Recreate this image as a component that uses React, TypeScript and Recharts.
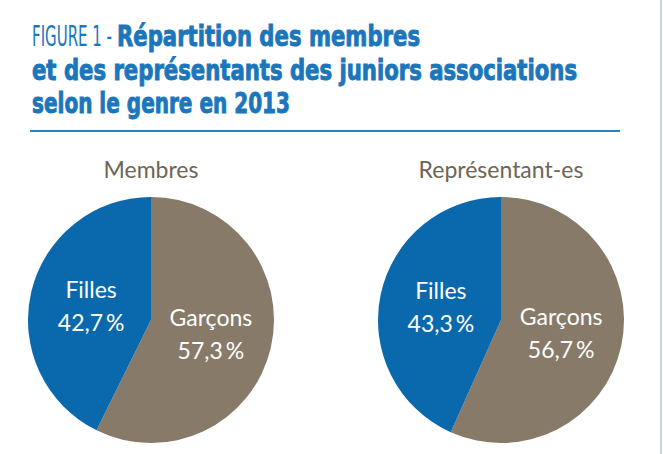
import { Pie, PieChart, Cell } from "recharts";

// données
const genres = ["Garçons", "Filles"];
const membres = [57.3, 42.7];
const representants = [56.7, 43.3];
const panneaux = ["Membres", "Représentant-es"];
const couleurs = ["#877a68", "#0a69ad"];

const titreLigne1a = "FIGURE 1 -";
const titreLigne1b = "Répartition des membres";
const titreLigne2 = "et des représentants des juniors associations";
const titreLigne3 = "selon le genre en 2013";

const BLEU = "#1b76bc";
const RAD = Math.PI / 180;
const POLICE_TITRE = "'DejaVu Sans Condensed', 'DejaVu Sans', sans-serif";

const fmt = (v: number) => v.toFixed(1).replace(".", ",") + "\u2009%";

// texte écrasé horizontalement pour imiter la police condensée
const TitreLigne = (p: {
  x: number;
  y: number;
  w: number;
  sx: number;
  bold?: boolean;
  children: string;
}) => (
  <text
    transform={`translate(${p.x},${p.y}) scale(${p.sx},1)`}
    fill={BLEU}
    stroke={p.bold ? BLEU : "none"}
    strokeWidth={p.bold ? 0.9 : 0}
    fontFamily={POLICE_TITRE}
    fontWeight={p.bold ? "bold" : "normal"}
    fontSize={28}
    textLength={p.w / p.sx}
    lengthAdjust="spacingAndGlyphs"
  >
    {p.children}
  </text>
);

const renderLabel = (props: any) => {
  const { cx, cy, midAngle, outerRadius, name, value } = props;
  const r = outerRadius * 0.5;
  const x = cx + r * Math.cos(-midAngle * RAD);
  const y = cy + r * Math.sin(-midAngle * RAD);
  return (
    <text
      x={x}
      y={y}
      fill="#ffffff"
      textAnchor="middle"
      fontFamily="Lato, sans-serif"
      fontSize={23}
    >
      <tspan x={x} y={y - 8}>
        {name}
      </tspan>
      <tspan x={x} y={y + 25}>
        {fmt(value)}
      </tspan>
    </text>
  );
};

const App = () => {
  const dataMembres = genres.map((g, i) => ({ name: g, value: membres[i] }));
  const dataRepr = genres.map((g, i) => ({ name: g, value: representants[i] }));
  const centres = [151, 501];
  const marge = 5;

  return (
    <div
      style={{
        position: "absolute",
        left: 0,
        top: 0,
        width: 663,
        height: 454,
        background: "#ffffff",
      }}
    >
      <svg
        width={663}
        height={454}
        style={{ position: "absolute", left: 0, top: 0 }}
      >
        <TitreLigne x={32} y={46} w={80} sx={0.62}>
          {titreLigne1a}
        </TitreLigne>
        <TitreLigne x={117} y={46} w={303} sx={0.85} bold>
          {titreLigne1b}
        </TitreLigne>
        <TitreLigne x={32} y={80} w={545} sx={0.85} bold>
          {titreLigne2}
        </TitreLigne>
        <TitreLigne x={32} y={113} w={258} sx={0.85} bold>
          {titreLigne3}
        </TitreLigne>
        <line x1={30} x2={620} y1={131} y2={131} stroke="#2a80c2" strokeWidth={2} />
        <line x1={661} x2={661} y1={0} y2={454} stroke="#a9c9e2" strokeWidth={1.5} />
        {panneaux.map((p, i) => (
          <text
            key={p}
            x={centres[i]}
            y={178}
            textAnchor="middle"
            fill="#6d6555"
            fontFamily="Lato, sans-serif"
            fontSize={23}
          >
            {p}
          </text>
        ))}
      </svg>
      <div style={{ position: "absolute", left: 0, top: 0 }}>
        <PieChart width={663} height={454}>
          <Pie
            data={dataMembres}
            dataKey="value"
            nameKey="name"
            cx={centres[0] - marge}
            cy={320 - marge}
            outerRadius={123}
            startAngle={90}
            endAngle={-270}
            stroke="none"
            label={renderLabel}
            labelLine={false}
            isAnimationActive={false}
          >
            {dataMembres.map((d, i) => (
              <Cell key={d.name} fill={couleurs[i]} />
            ))}
          </Pie>
          <Pie
            data={dataRepr}
            dataKey="value"
            nameKey="name"
            cx={centres[1] - marge}
            cy={320 - marge}
            outerRadius={123}
            startAngle={90}
            endAngle={-270}
            stroke="none"
            label={renderLabel}
            labelLine={false}
            isAnimationActive={false}
          >
            {dataRepr.map((d, i) => (
              <Cell key={d.name} fill={couleurs[i]} />
            ))}
          </Pie>
        </PieChart>
      </div>
    </div>
  );
};

export default App;
